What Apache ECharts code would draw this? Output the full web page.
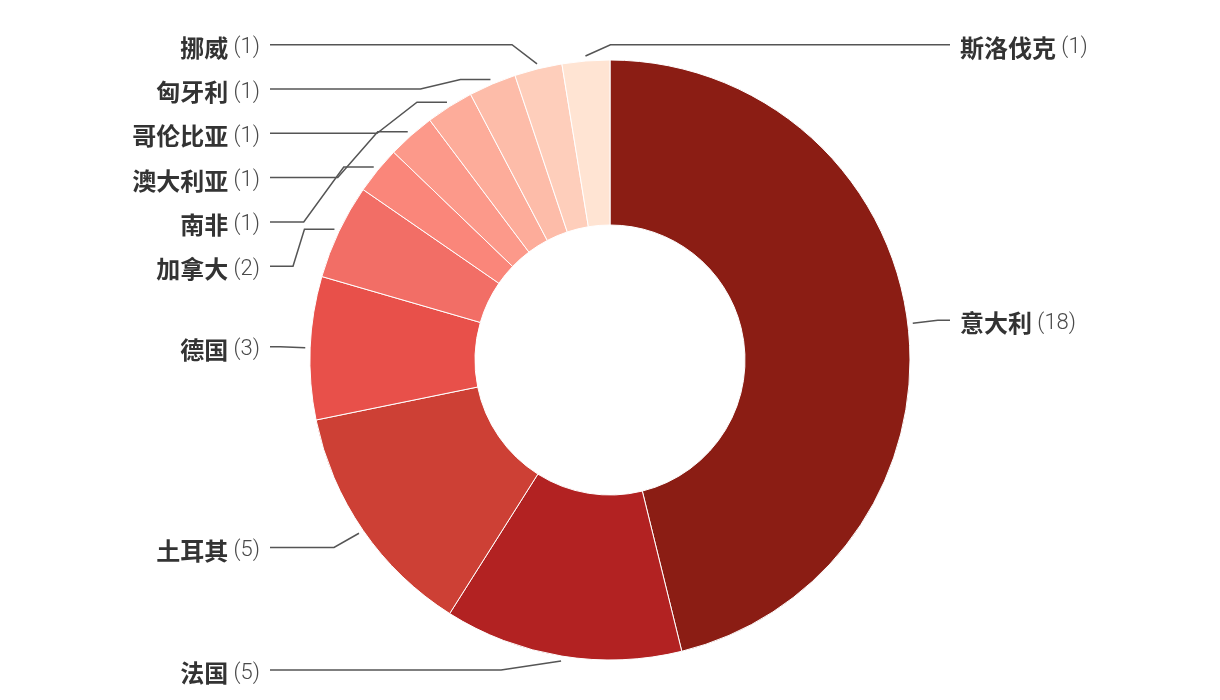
<!DOCTYPE html>
<html><head><meta charset="utf-8">
<script src="https://cdn.jsdelivr.net/npm/echarts@6/dist/echarts.min.js"></script>
<style>html,body{margin:0;padding:0;background:#fff}#c{width:1220px;height:700px}</style>
</head><body><div id="c"></div>
<script>
// ---- data ----
const countries = ['意大利','法国','土耳其','德国','加拿大','南非','澳大利亚','哥伦比亚','匈牙利','挪威','斯洛伐克'];
const counts = [18, 5, 5, 3, 2, 1, 1, 1, 1, 1, 1];
const sliceColors = ['#8B1D14','#B22222','#CD4035','#E8504A','#F26E66','#FA867A','#FC998A','#FDAC9A','#FDBCA9','#FECEBB','#FFE4D3'];

// ---- layout constants ----
const CX = 610, CY = 360, R_IN = 135, R_OUT = 300;
const TOUCH_OFF = 5, NATURAL_OFF = 30, LINE_COL = 340, TEXT_GAP = 10;
const SPACING = 44.3, MIN_Y = 44.7, MAX_Y = 670, TOP_TOL = 10;

const total = counts.reduce((a, b) => a + b, 0);
let acc = 0;
const info = counts.map((v, i) => {
  const mid = (acc + v / 2) / total * 2 * Math.PI;
  acc += v;
  const s = Math.sin(mid), c = Math.cos(mid), deg = mid * 180 / Math.PI;
  const dir = (s > 0 || deg > 360 - TOP_TOL) ? 1 : -1;
  return { i, s, c, dir,
    tx: CX + (R_OUT + TOUCH_OFF) * s, ty: CY - (R_OUT + TOUCH_OFF) * c,
    ny: CY - (R_OUT + NATURAL_OFF) * c };
});

function resolveSide(items) {
  items.sort((a, b) => a.ny - b.ny);
  let clusters = items.map(it => ({ m: [it] }));
  const place = cl => {
    const n = cl.m.length;
    const mean = cl.m.reduce((a, b) => a + b.ny, 0) / n;
    let top = mean - (n - 1) * SPACING / 2;
    top = Math.max(MIN_Y, Math.min(MAX_Y - (n - 1) * SPACING, top));
    cl.top = top;
  };
  let changed = true;
  while (changed) {
    changed = false;
    clusters.forEach(place);
    for (let k = 1; k < clusters.length; k++) {
      const prev = clusters[k - 1];
      const bottom = prev.top + (prev.m.length - 1) * SPACING;
      if (clusters[k].top - bottom < SPACING - 0.01) {
        prev.m = prev.m.concat(clusters[k].m);
        clusters.splice(k, 1);
        changed = true;
        break;
      }
    }
  }
  clusters.forEach(cl => cl.m.forEach((it, j) => { it.ly = cl.top + j * SPACING; }));
}
resolveSide(info.filter(d => d.dir < 0));
resolveSide(info.filter(d => d.dir > 0));

function linePoints(d) {
  const lx = CX + d.dir * LINE_COL;
  const T = [d.tx, d.ty];
  if (d.ly - d.ty > 5 && d.ty < CY) {
    const B = [d.tx + d.dir * 30, d.ty];
    let cx = B[0] + d.dir * 40;
    if (d.dir < 0) cx = Math.max(cx, lx + 23); else cx = Math.min(cx, lx - 23);
    return [T, B, [cx, d.ly], [lx, d.ly]];
  }
  // nearly level lines bend further out, steep ones bend close to the slice
  const dy = Math.abs(d.ly - d.ty);
  const off = (dy < 12 && d.ty > CY) ? 60 : 25;
  return [T, [d.tx + d.dir * off, d.ly], [lx, d.ly]];
}

const chart = echarts.init(document.getElementById('c'), null, { renderer: 'canvas' });
chart.setOption({
  animation: false,
  backgroundColor: '#ffffff',
  series: [{
    type: 'pie',
    center: [CX, CY],
    radius: [R_IN, R_OUT],
    startAngle: 90,
    clockwise: true,
    avoidLabelOverlap: false,
    itemStyle: { borderColor: '#ffffff', borderWidth: 1 },
    emphasis: { disabled: true },
    data: countries.map((n, i) => ({ name: n, value: counts[i], itemStyle: { color: sliceColors[i] } })),
    label: {
      show: true,
      position: 'outside',
      formatter: p => '{n|' + p.name + '}{v| (' + p.value + ')}',
      rich: {
        n: { fontFamily: 'Noto Sans CJK SC', fontWeight: 'bold', fontSize: 24, color: '#333333' },
        v: { fontFamily: 'Roboto', fontWeight: 300, fontSize: 22, color: '#4a4a4a' }
      }
    },
    labelLine: { show: true, length: 30, length2: 10, lineStyle: { color: '#555555', width: 1.5 } },
    labelLayout: function (p) {
      const d = info[p.dataIndex];
      const lx = CX + d.dir * LINE_COL;
      return {
        x: lx + d.dir * TEXT_GAP,
        y: d.ly + 3,
        align: d.dir > 0 ? 'left' : 'right',
        verticalAlign: 'middle',
        hideOverlap: false,
        labelLinePoints: linePoints(d)
      };
    }
  }]
});
</script></body></html>
